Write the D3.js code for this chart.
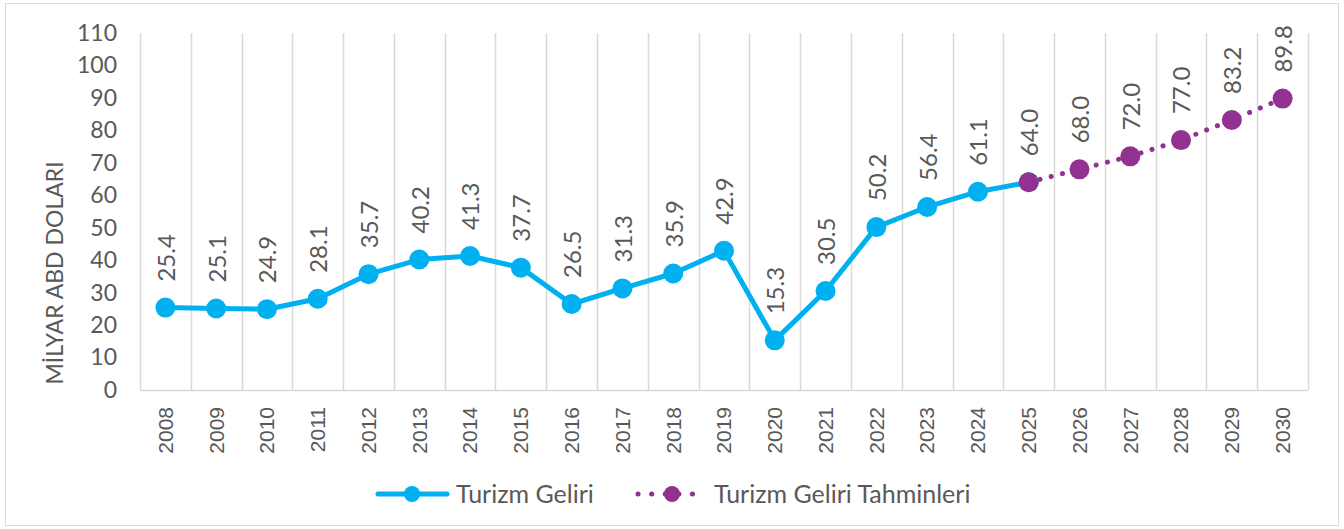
<!DOCTYPE html>
<html>
<head>
<meta charset="utf-8">
<script src="https://cdn.jsdelivr.net/npm/d3@7"></script>
<style>
  body { margin: 0; background: #fff; }
  text { font-family: Lato, "Noto Sans", sans-serif; fill: #595959; }
</style>
</head>
<body>
<div id="container"></div>
<script>
// actual years and the forecast years
const years = ["2008","2009","2010","2011","2012","2013","2014","2015","2016","2017","2018",
               "2019","2020","2021","2022","2023","2024","2025","2026","2027","2028","2029","2030"];
const actualYears = years.slice(0, 18);
const actualValues = [25.4, 25.1, 24.9, 28.1, 35.7, 40.2, 41.3, 37.7, 26.5, 31.3, 35.9,
                      42.9, 15.3, 30.5, 50.2, 56.4, 61.1, 64.0];
const forecastYears = ["2025","2026","2027","2028","2029","2030"];
const forecastValues = [64.0, 68.0, 72.0, 77.0, 83.2, 89.8];
const yTicks = [0, 10, 20, 30, 40, 50, 60, 70, 80, 90, 100, 110];

const width = 1344;
const height = 529;
const blue = "#00B0F0";
const purple = "#92318F";
const grid = "#D9D9D9";
const font = "Lato, 'Noto Sans', sans-serif";

const svg = d3.select("#container")
    .append("svg")
    .attr("width", width)
    .attr("height", height);

// outer frame
svg.append("rect")
    .attr("x", 5.5).attr("y", 3.5)
    .attr("width", 1333).attr("height", 522)
    .attr("fill", "none")
    .attr("stroke", grid);

const plot = {left: 140, right: 1308, top: 33, bottom: 390};

const x = d3.scaleBand()
    .domain(years)
    .range([plot.left, plot.right]);

const y = d3.scaleLinear()
    .domain([0, 110])
    .range([plot.bottom, plot.top]);

const cx = d => x(d) + x.bandwidth() / 2;

// vertical gridlines on category boundaries
const bounds = years.map(d => x(d)).concat([plot.right]);
svg.append("g")
    .selectAll("line")
    .data(bounds)
    .join("line")
    .attr("x1", d => Math.round(d) + 0.5)
    .attr("x2", d => Math.round(d) + 0.5)
    .attr("y1", plot.top)
    .attr("y2", plot.bottom)
    .attr("stroke", grid)
    .attr("stroke-width", 1.5);

// bottom line
svg.append("line")
    .attr("x1", plot.left).attr("x2", plot.right)
    .attr("y1", plot.bottom + 0.5).attr("y2", plot.bottom + 0.5)
    .attr("stroke", grid)
    .attr("stroke-width", 1.5);

// y axis labels
const yAxis = svg.append("g")
    .attr("transform", `translate(${plot.left},0)`)
    .call(d3.axisLeft(y).tickValues(yTicks).tickSize(0).tickPadding(23));
yAxis.select(".domain").remove();
yAxis.selectAll("text")
    .attr("font-size", 23)
    .attr("fill", "#595959")
    .style("font-family", font);

// x axis labels, rotated (these look like Arial in the original)
const xAxis = svg.append("g")
    .attr("transform", `translate(0,${plot.bottom})`)
    .call(d3.axisBottom(x).tickSize(0).tickPadding(0));
xAxis.select(".domain").remove();
xAxis.selectAll("text")
    .attr("font-size", 21)
    .attr("fill", "#595959")
    .style("font-family", "'Liberation Sans', Arial, sans-serif")
    .attr("text-anchor", "end")
    .attr("dy", "0.35em")
    .attr("transform", "translate(0,17) rotate(-90)")
    .attr("x", 0).attr("y", 0);

// y axis title
svg.append("text")
    .attr("transform", "translate(55,273) rotate(-90)")
    .attr("text-anchor", "middle")
    .attr("dy", "0.35em")
    .attr("font-size", 23)
    .text("MİLYAR ABD DOLARI");

// forecast dotted line
const line = d3.line().x(d => cx(d[0])).y(d => y(d[1]));
svg.append("path")
    .datum(d3.zip(forecastYears, forecastValues))
    .attr("d", line)
    .attr("fill", "none")
    .attr("stroke", purple)
    .attr("stroke-width", 5)
    .attr("stroke-linecap", "round")
    .attr("stroke-dasharray", "0.1 11.5");

// actual line
svg.append("path")
    .datum(d3.zip(actualYears, actualValues))
    .attr("d", line)
    .attr("fill", "none")
    .attr("stroke", blue)
    .attr("stroke-width", 5)
    .attr("stroke-linejoin", "round");

svg.append("g")
    .selectAll("circle")
    .data(d3.zip(actualYears, actualValues))
    .join("circle")
    .attr("cx", d => cx(d[0]))
    .attr("cy", d => y(d[1]))
    .attr("r", 10)
    .attr("fill", blue);

svg.append("g")
    .selectAll("circle")
    .data(d3.zip(forecastYears, forecastValues))
    .join("circle")
    .attr("cx", d => cx(d[0]))
    .attr("cy", d => y(d[1]))
    .attr("r", 10)
    .attr("fill", purple);

// data labels, rotated
const labelData = d3.zip(actualYears, actualValues)
    .concat(d3.zip(forecastYears, forecastValues).slice(1));
svg.append("g")
    .selectAll("text")
    .data(labelData)
    .join("text")
    .attr("transform", d => `translate(${cx(d[0]) + 1},${y(d[1]) - 26}) rotate(-90)`)
    .attr("font-size", 24)
    .attr("dy", "0.35em")
    .attr("text-anchor", "start")
    .text(d => d[1].toFixed(1));

// legend
const legY = 494;
const leg = svg.append("g");
leg.append("line")
    .attr("x1", 378).attr("x2", 447)
    .attr("y1", legY).attr("y2", legY)
    .attr("stroke", blue).attr("stroke-width", 5)
    .attr("stroke-linecap", "round");
leg.append("circle")
    .attr("cx", 412).attr("cy", legY).attr("r", 8)
    .attr("fill", blue);
leg.append("text")
    .attr("x", 456).attr("y", legY).attr("dy", "0.35em")
    .attr("font-size", 25)
    .text("Turizm Geliri");

leg.append("line")
    .attr("x1", 638).attr("x2", 706)
    .attr("y1", legY).attr("y2", legY)
    .attr("stroke", purple).attr("stroke-width", 5)
    .attr("stroke-linecap", "round")
    .attr("stroke-dasharray", "0.1 13.5");
leg.append("circle")
    .attr("cx", 672).attr("cy", legY).attr("r", 8)
    .attr("fill", purple);
leg.append("text")
    .attr("x", 714).attr("y", legY).attr("dy", "0.35em")
    .attr("font-size", 25)
    .text("Turizm Geliri Tahminleri");
</script>
</body>
</html>
